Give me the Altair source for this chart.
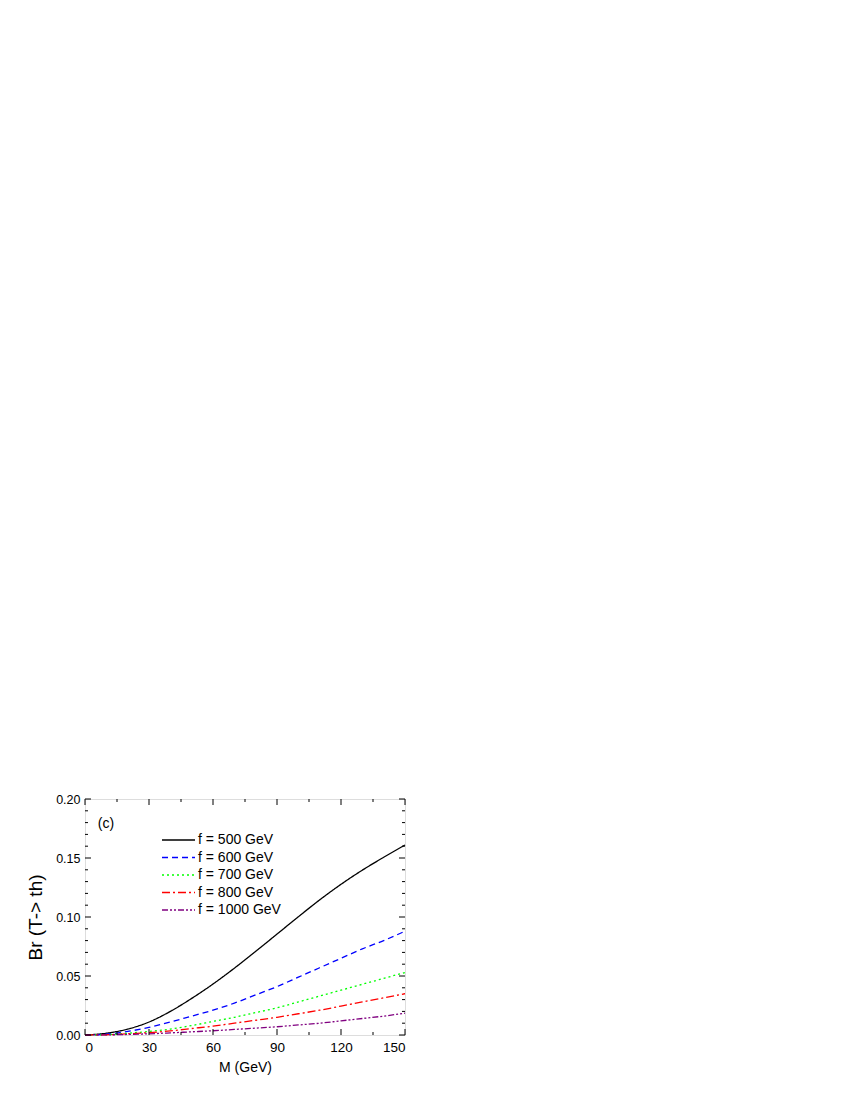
import altair as alt
import pandas as pd

# ---- data ----
M = [0, 10, 20, 30, 40, 50, 60, 70, 80, 90, 100, 110, 120, 130, 140, 150]
br_500 = [0, 0.0015, 0.005, 0.011, 0.020, 0.031, 0.0432, 0.0566, 0.0709, 0.0855,
          0.1002, 0.1145, 0.1277, 0.1397, 0.1506, 0.161]
br_600 = [0, 0.0007, 0.003, 0.0065, 0.011, 0.016, 0.021, 0.027, 0.034, 0.041,
          0.049, 0.057, 0.065, 0.073, 0.080, 0.088]
br_700 = [0, 0.0003, 0.0015, 0.003, 0.005, 0.008, 0.0115, 0.015, 0.019, 0.023,
          0.028, 0.033, 0.038, 0.043, 0.048, 0.053]
br_800 = [0, 0.0002, 0.001, 0.002, 0.0035, 0.0055, 0.0075, 0.010, 0.0125, 0.015,
          0.018, 0.021, 0.0245, 0.028, 0.0315, 0.035]
br_1000 = [0, 0.0001, 0.0005, 0.001, 0.0018, 0.0027, 0.0036, 0.0047, 0.0058, 0.007,
           0.0085, 0.010, 0.012, 0.014, 0.016, 0.0185]

names = ["f = 500 GeV", "f = 600 GeV", "f = 700 GeV", "f = 800 GeV", "f = 1000 GeV"]
series = [br_500, br_600, br_700, br_800, br_1000]
colors = ["#000000", "#0000ff", "#00ff00", "#ff0000", "#800080"]
dashes = [[1, 0], [6, 4], [2, 3], [8, 3, 2, 3], [6, 2, 2, 2, 2, 2]]

x_major = [0, 30, 60, 90, 120, 150]
x_minor = [15, 45, 75, 105, 135]
y_major = [0.0, 0.05, 0.10, 0.15, 0.20]
y_minor = [0.01, 0.02, 0.03, 0.04, 0.06, 0.07, 0.08, 0.09, 0.11, 0.12, 0.13, 0.14,
           0.16, 0.17, 0.18, 0.19]

rows = []
for n, s in zip(names, series):
    for m, v in zip(M, s):
        rows.append({"M": m, "Br": v, "series": n})
df = pd.DataFrame(rows)
legend_df = pd.DataFrame({"series": names, "idx": list(range(len(names)))})

W, H = 320, 236
FONT = "Liberation Sans"

xs = alt.Scale(domain=[0, 150], nice=False, zero=False)
ys = alt.Scale(domain=[0, 0.2], nice=False)
cs = alt.Scale(domain=names, range=colors)
ds = alt.Scale(domain=names, range=dashes)

lines = alt.Chart(df).mark_line(strokeWidth=1.3, interpolate="monotone").encode(
    x=alt.X("M:Q", scale=xs,
            axis=alt.Axis(values=x_major, title="M (GeV)", format="d", ticks=False,
                          labelFontSize=13.5, titleFontSize=14, labelPadding=5,
                          titlePadding=7, titleFontWeight="normal", domain=False,
                          grid=False, labelColor="black", titleColor="black")),
    y=alt.Y("Br:Q", scale=ys,
            axis=alt.Axis(values=y_major, title="Br (T-> th)", format=".2f", ticks=False,
                          labelFontSize=12.5, titleFontSize=19, labelPadding=5,
                          titlePadding=10, titleFontWeight="normal", domain=False,
                          grid=False, labelColor="black", titleColor="black")),
    color=alt.Color("series:N", scale=cs, legend=None),
    strokeDash=alt.StrokeDash("series:N", scale=ds, legend=None),
    order=alt.Order("M:Q"),
)

# legend drawn inside the plot (Origin style)
leg_base = alt.Chart(legend_df).transform_calculate(ly="41 + 17.5 * datum.idx")
leg_lines = leg_base.mark_rule(strokeWidth=1.3).encode(
    y=alt.Y("ly:Q", scale=None),
    x=alt.value(77), x2=alt.value(110),
    color=alt.Color("series:N", scale=cs, legend=None),
    strokeDash=alt.StrokeDash("series:N", scale=ds, legend=None),
)
leg_text = leg_base.mark_text(fontSize=14, font=FONT, color="black", align="left",
                              baseline="middle").encode(
    y=alt.Y("ly:Q", scale=None), x=alt.value(113), text="series:N",
)


def tick_layer(vals, axis, length):
    d = pd.DataFrame({"v": vals})
    base = alt.Chart(d).mark_rule(color="black", strokeWidth=1)
    if axis == "x":
        bottom = base.encode(x=alt.X("v:Q", scale=xs), y=alt.value(H), y2=alt.value(H - length))
        top = base.encode(x=alt.X("v:Q", scale=xs), y=alt.value(0), y2=alt.value(length))
    else:
        bottom = base.encode(y=alt.Y("v:Q", scale=ys), x=alt.value(0), x2=alt.value(length))
        top = base.encode(y=alt.Y("v:Q", scale=ys), x=alt.value(W), x2=alt.value(W - length))
    return [bottom, top]


ticks = (tick_layer(x_major, "x", 6) + tick_layer(x_minor, "x", 3)
         + tick_layer(y_major, "y", 6) + tick_layer(y_minor, "y", 3))

label_c = alt.Chart(pd.DataFrame({"t": ["(c)"]})).mark_text(
    fontSize=14, font=FONT, color="black", align="left", baseline="middle"
).encode(x=alt.datum(6), y=alt.datum(0.179), text="t:N")

chart = alt.layer(lines, *ticks, leg_lines, leg_text, label_c).properties(
    width=W, height=H,
    autosize="none",
    padding={"left": 77, "top": 791, "right": 20, "bottom": 50},
).configure_view(stroke="black", strokeWidth=1.5).configure(
    font=FONT
)

chart.save("out.html", embed_options={"renderer": "svg", "actions": False})
